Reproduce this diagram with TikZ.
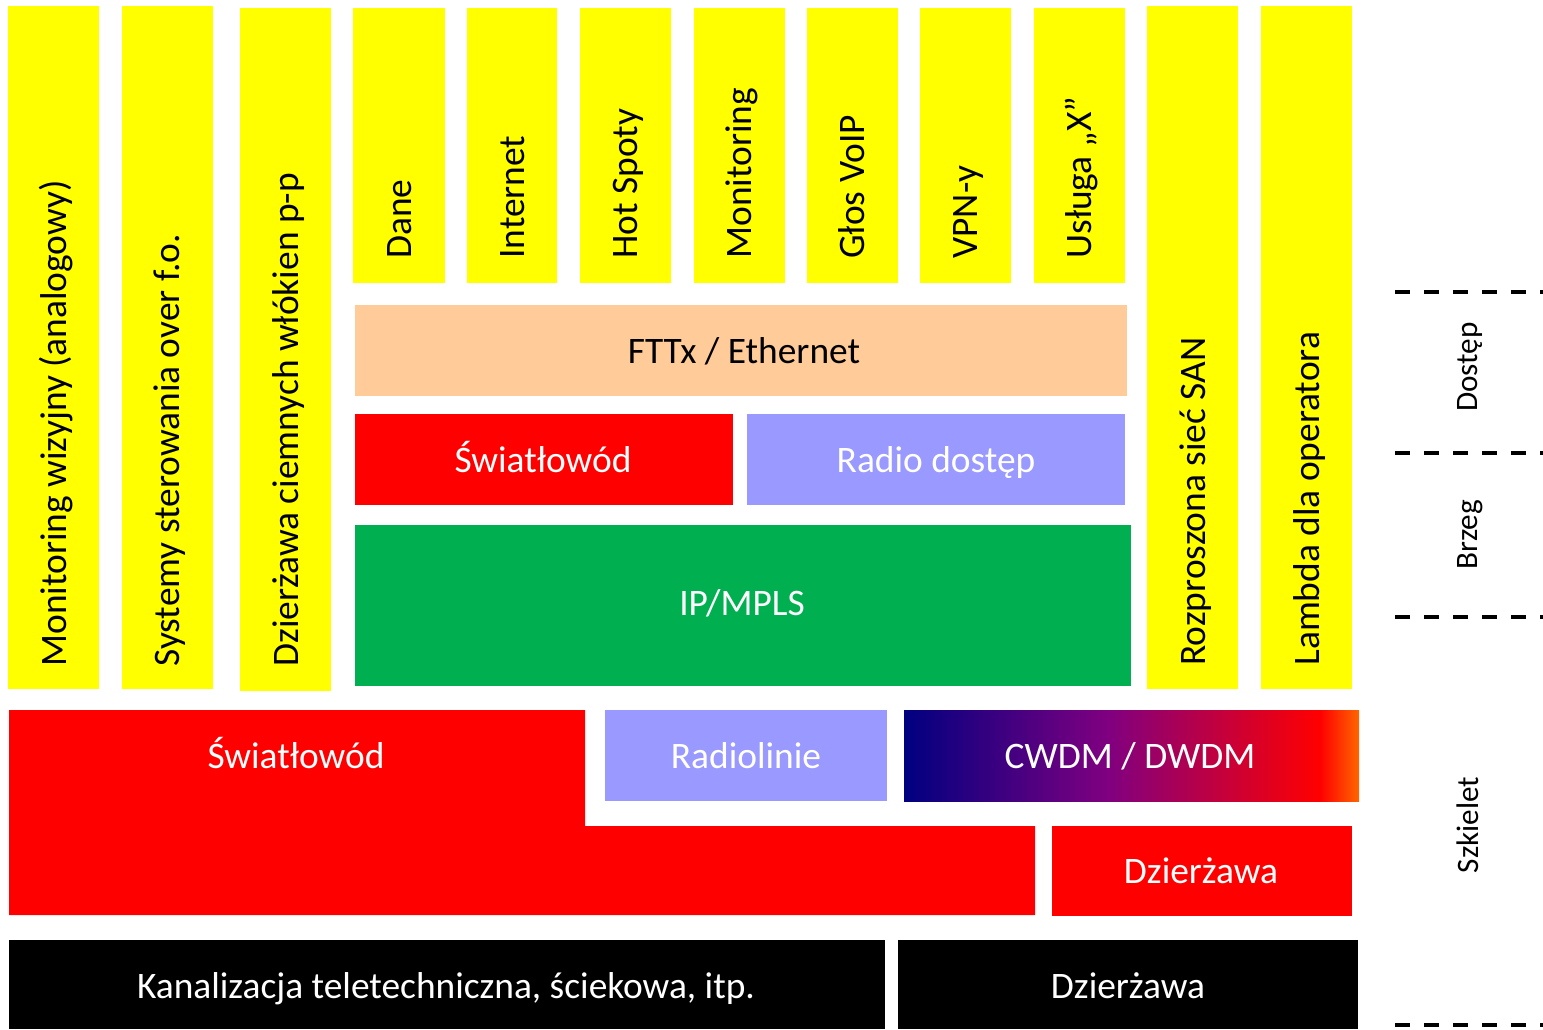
\documentclass[tikz,border=0pt]{standalone}
\usepackage{fontspec}
\setmainfont{Carlito}
\usetikzlibrary{fit}
\definecolor{yel}{HTML}{FFFF00}
\definecolor{peach}{HTML}{FFCC99}
\definecolor{lav}{HTML}{9999FF}
\definecolor{grn}{HTML}{00B050}
\definecolor{redA}{HTML}{FF0000}
\definecolor{navyA}{HTML}{000080}
\definecolor{purpA}{HTML}{800080}
\definecolor{orngA}{HTML}{FF6600}
\pgfdeclarehorizontalshading{cwdm}{100bp}{color(0bp)=(navyA); color(25bp)=(navyA); color(47.5bp)=(purpA); color(70.7bp)=(redA); color(75bp)=(orngA); color(100bp)=(orngA)}
\tikzset{
  blk/.style={inner sep=0pt, outer sep=0pt, draw=none},
  txt/.style={inner sep=0pt, anchor=base, font=\fontsize{18.7}{22}\selectfont},
  vtxt/.style={txt, rotate=90, anchor=base west},
  wtxt/.style={txt, text=white},
  side/.style={inner sep=0pt, rotate=90, font=\fontsize{15.6}{18}\selectfont},
  dashline/.style={line width=2pt, dash pattern=on 7.5pt off 7pt}
}
\begin{document}
\begin{tikzpicture}[x=0.5pt, y=-0.5pt]
\useasboundingbox (0,0) rectangle (1543,1029);
% tall yellow columns
\node[blk, fill=yel, fit={(8,6)(99,689)}] (c1) {};
\node[blk, fill=yel, fit={(122,6)(213,689)}] (c2) {};
\node[blk, fill=yel, fit={(240,8)(331,691)}] (c3) {};
\node[blk, fill=yel, fit={(1147,6)(1238,689)}] (c11) {};
\node[blk, fill=yel, fit={(1261,6)(1352,689)}] (c12) {};
\node[vtxt] (t1) at (66.5,667) {Monitoring wizyjny (analogowy)};
\node[vtxt] (t2) at (179.5,667) {Systemy sterowania over f.o.};
\node[vtxt] (t3) at (298,667) {Dzierżawa ciemnych włókien p-p};
\node[vtxt] (t11) at (1205,666) {Rozproszona sieć SAN};
\node[vtxt] (t12) at (1319,666) {Lambda dla operatora};
% short yellow columns
\node[blk, fill=yel, fit={(353,8)(445,283)}] (s1) {};
\node[blk, fill=yel, fit={(467,8)(557,283)}] (s2) {};
\node[blk, fill=yel, fit={(580,8)(671,283)}] (s3) {};
\node[blk, fill=yel, fit={(694,8)(785,283)}] (s4) {};
\node[blk, fill=yel, fit={(807,8)(898,283)}] (s5) {};
\node[blk, fill=yel, fit={(920,8)(1011,283)}] (s6) {};
\node[blk, fill=yel, fit={(1034,8)(1125,283)}] (s7) {};
\node[vtxt] (u1) at (411,259) {Dane};
\node[vtxt] (u2) at (524,259) {Internet};
\node[vtxt] (u3) at (637.5,259) {Hot Spoty};
\node[vtxt] (u4) at (751.5,259) {Monitoring};
\node[vtxt] (u5) at (864.5,259) {Głos VoIP};
\node[vtxt] (u6) at (977.5,259) {VPN-y};
\node[vtxt] (u7) at (1091.5,259) {Usługa „X”};
% access layers
\node[blk, fill=peach, fit={(355,305)(1127,396)}] (ftt) {};
\node[txt] (fttt) at (744,363) {FTTx / Ethernet};
\node[blk, fill=redA, fit={(355,414)(733,505)}] (sw) {};
\node[wtxt] (swt) at (543,472) {Światłowód};
\node[blk, fill=lav, fit={(747,414)(1125,505)}] (rd) {};
\node[wtxt] (rdt) at (936,472) {Radio dostęp};
\node[blk, fill=grn, fit={(355,525)(1131,686)}] (ip) {};
\node[wtxt] (ipt) at (742,615) {IP/MPLS};
% backbone
\fill[redA] (9,710) -- (585,710) -- (585,826) -- (1035,826) -- (1035,915) -- (9,915) -- cycle;
\node[wtxt] (bswt) at (296,768) {Światłowód};
\node[blk, fill=lav, fit={(605,710)(887,801)}] (rl) {};
\node[wtxt] (rlt) at (746,768) {Radiolinie};
\node[blk, shade, shading=cwdm, fit={(904,710)(1359,801)}] (cw) {};
\node[wtxt] (cwt) at (1130,768) {CWDM / DWDM};
\node[blk, fill=redA, fit={(1052,826)(1352,916)}] (dz) {};
\node[wtxt] (dzt) at (1201,883) {Dzierżawa};
\node[blk, fill=black, fit={(9,940)(885,1029)}] (kn) {};
\node[wtxt] (knt) at (446,998) {Kanalizacja teletechniczna, ściekowa, itp.};
\node[blk, fill=black, fit={(898,940)(1358,1029)}] (dz2) {};
\node[wtxt] (dz2t) at (1128,998) {Dzierżawa};
% side scale
\coordinate (d1a) at (1395,292); \coordinate (d1b) at (1543,292);
\coordinate (d2a) at (1395,453); \coordinate (d2b) at (1543,453);
\coordinate (d3a) at (1395,617); \coordinate (d3b) at (1543,617);
\coordinate (d4a) at (1395,1025); \coordinate (d4b) at (1543,1025);
\draw[dashline] (d1a) -- (d1b);
\draw[dashline] (d2a) -- (d2b);
\draw[dashline] (d3a) -- (d3b);
\draw[dashline] (d4a) -- (d4b);
\node[side] (l1) at (1470,367) {Dostęp};
\node[side] (l2) at (1470,535) {Brzeg};
\node[side] (l3) at (1468,825) {Szkielet};
\end{tikzpicture}
\end{document}
